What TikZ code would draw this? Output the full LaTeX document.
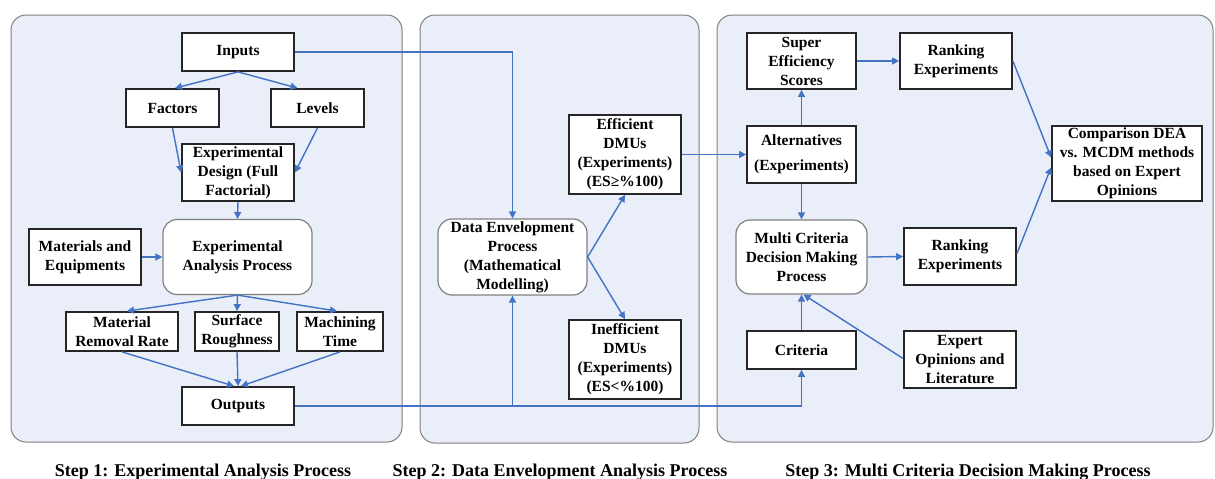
\documentclass[tikz,border=0pt]{standalone}
\usepackage{fontspec}
\setmainfont{Liberation Serif}
\usetikzlibrary{arrows.meta,calc}
\definecolor{panelfill}{RGB}{233,238,248}
\definecolor{panelline}{RGB}{128,128,128}
\definecolor{arrowblue}{RGB}{68,114,196}
\tikzset{
  panel/.style={draw=panelline, line width=1pt, fill=panelfill, rounded corners=15pt},
  box/.style={draw=black!85, line width=1.8pt, fill=white, align=center, inner sep=0pt,
    font=\fontsize{15.5}{19}\selectfont\bfseries},
  rbox/.style={box, draw=panelline, line width=1.2pt, rounded corners=14pt},
  arr/.style={draw=arrowblue, line width=1.4pt, -{Triangle[length=7pt,width=7pt]}},
  ln/.style={draw=arrowblue, line width=1.4pt},
  steplabel/.style={font=\fontsize{18}{22}\selectfont\bfseries, inner sep=0pt}
}
\begin{document}
\begin{tikzpicture}[x=1pt,y=-1pt]
\useasboundingbox (0,0) rectangle (1215,479);
% panels
\draw[panel] (11,15) rectangle (402,442);
\draw[panel] (420,15) rectangle (699,443);
\draw[panel] (717,15) rectangle (1213,442);
% panel 1
\node[box, minimum width=112pt, minimum height=38pt] (inputs) at (238,52) {Inputs};
\node[box, minimum width=93pt, minimum height=38pt] (factors) at (172.5,108) {Factors};
\node[box, minimum width=93pt, minimum height=38pt] (levels) at (317.5,108) {Levels};
\node[box, minimum width=112pt, minimum height=57pt] (design) at (238,172.5) {Experimental\\Design (Full\\Factorial)};
\node[rbox, minimum width=149pt, minimum height=75pt] (eap) at (237.5,257) {Experimental\\Analysis Process};
\node[box, minimum width=112pt, minimum height=56pt] (mat) at (85,257) {Materials and\\Equipments};
\node[box, minimum width=112pt, minimum height=39pt] (mrr) at (122,331.5) {Material\\Removal Rate};
\node[box, minimum width=84pt, minimum height=39pt] (sr) at (237,331.5) {Surface\\Roughness};
\node[box, minimum width=86pt, minimum height=39pt] (mt) at (340,331.5) {Machining\\Time};
\node[box, minimum width=112pt, minimum height=38pt] (outputs) at (238,406) {Outputs};
% panel 2
\node[rbox, minimum width=149pt, minimum height=76pt] (dep) at (512.5,257) {Data Envelopment\\Process\\(Mathematical\\Modelling)};
\node[box, minimum width=112pt, minimum height=79pt] (eff) at (625,154.5) {Efficient\\DMUs\\(Experiments)\\(ES≥\%100)};
\node[box, minimum width=112pt, minimum height=79pt] (ineff) at (625,359.5) {Inefficient\\DMUs\\(Experiments)\\(ES<\%100)};
% panel 3
\node[box, minimum width=109pt, minimum height=56pt] (super) at (801.5,61) {Super\\Efficiency\\Scores};
\node[box, minimum width=112pt, minimum height=56pt] (rank1) at (956,61) {Ranking\\Experiments};
\node[box, minimum width=109pt, minimum height=57pt] (alt) at (801.5,154.5) {Alternatives\\[6pt](Experiments)};
\node[box, minimum width=150pt, minimum height=75pt] (comp) at (1127,163.5) {Comparison DEA\\vs. MCDM methods\\based on Expert\\Opinions};
\node[rbox, minimum width=131pt, minimum height=74pt] (mcdm) at (801.5,257) {Multi Criteria\\Decision Making\\Process};
\node[box, minimum width=112pt, minimum height=57pt] (rank2) at (960,256.5) {Ranking\\Experiments};
\node[box, minimum width=109pt, minimum height=38pt] (crit) at (801.5,350) {Criteria};
\node[box, minimum width=112pt, minimum height=57pt] (expert) at (960,359.5) {Expert\\Opinions and\\Literature};
% step labels
\node[steplabel] (s1) at (203,472) {Step 1: Experimental Analysis Process};
\node[steplabel] (s2) at (560,472) {Step 2: Data Envelopment Analysis Process};
\node[steplabel] (s3) at (968,472) {Step 3: Multi Criteria Decision Making Process};
% connectors panel 1
\draw[arr] (inputs.south) -- ([xshift=2.5pt]factors.north);
\draw[arr] (inputs.south) -- ([xshift=-20pt]levels.north);
\draw[arr] (factors.south) -- (design.west);
\draw[arr] (levels.south) -- (design.east);
\draw[arr] (design.south) -- (eap.north);
\draw[arr] (mat.east) -- (eap.west);
\draw[arr] (eap.south) -- ([xshift=5pt]mrr.north);
\draw[arr] (eap.south) -- (sr.north);
\draw[arr] (eap.south) -- ([xshift=-3pt]mt.north);
\draw[arr] (mrr.south) -- ([xshift=-4pt]outputs.north);
\draw[arr] (sr.south) -- (outputs.north);
\draw[arr] (mt.south) -- ([xshift=3pt]outputs.north);
% cross-panel connectors
\draw[arr] (inputs.east) -| (dep.north);
\draw[arr] (outputs.east) -| (crit.south);
\coordinate (branch) at (dep.south |- outputs.east);
\draw[arr] (branch) -- (dep.south);
\draw[arr] (dep.east) -- (eff.south);
\draw[arr] (dep.east) -- (ineff.north);
\draw[arr] (eff.east) -- (alt.west);
% panel 3 connectors
\draw[arr] (alt.north) -- (super.south);
\draw[arr] (alt.south) -- (mcdm.north);
\draw[arr] (super.east) -- (rank1.west);
\draw[arr] (mcdm.east) -- (rank2.west);
\draw[arr] (crit.north) -- (mcdm.south);
\draw[arr] ([yshift=1pt]expert.west) -- ([xshift=2pt]mcdm.south);
\draw[arr] (rank1.east) -- ([yshift=6pt]comp.west);
\draw[arr] ([yshift=3pt]rank2.east) -- ([yshift=-4pt]comp.west);
\end{tikzpicture}
\end{document}
